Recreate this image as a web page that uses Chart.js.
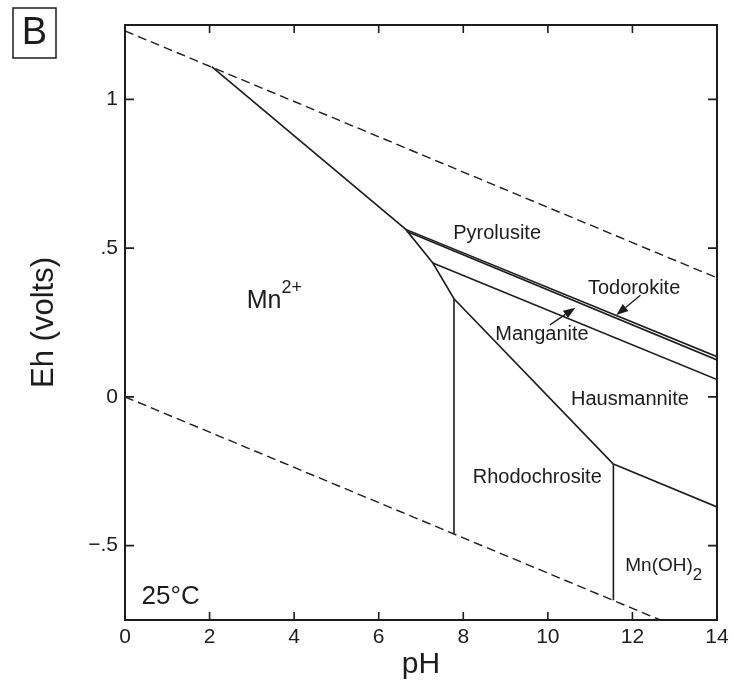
<!DOCTYPE html>
<html>
<head>
<meta charset="utf-8">
<script src="https://cdn.jsdelivr.net/npm/chart.js@4.4.0/dist/chart.umd.min.js"></script>
<style>
  html, body { margin: 0; padding: 0; background: #fff; }
  #wrap { width: 735px; height: 688px; position: relative; }
</style>
</head>
<body>
<div id="wrap"><canvas id="ehph"></canvas></div>
<script>
// Eh-pH diagram for Mn at 25 C
const xTicks = [0, 2, 4, 6, 8, 10, 12, 14];
const yTickValues = [-0.5, 0, 0.5, 1];
const yTickLabels = ['\u2212.5', '0', '.5', '1'];

// water stability limits (dashed)
const waterUpperPH = [0, 14];
const waterUpperEh = [1.23, 0.40];
const waterLowerPH = [0, 12.66];
const waterLowerEh = [0, -0.75];

// field boundaries (solid)
const mnIonPH = [2.05, 6.64, 7.28, 7.78, 11.55];
const mnIonEh = [1.11, 0.563, 0.450, 0.330, -0.226];
const pyrolusitePH = [6.64, 14];
const pyrolusiteEh = [0.563, 0.135];
const todorokitePH = [6.67, 14];
const todorokiteEh = [0.556, 0.124];
const manganitePH = [7.28, 14];
const manganiteEh = [0.450, 0.058];
const rhodoLeftPH = [7.78, 7.78];
const rhodoLeftEh = [0.330, -0.46];
const rhodoRightPH = [11.55, 11.55];
const rhodoRightEh = [-0.226, -0.684];
const hydroxidePH = [11.55, 14];
const hydroxideEh = [-0.226, -0.37];

// field names
const fieldNames = ['Pyrolusite', 'Todorokite', 'Manganite', 'Hausmannite', 'Rhodochrosite', '25\u00b0C'];
const fieldPH = [8.80, 12.04, 9.86, 11.94, 9.75, 1.08];
const fieldEh = [0.550, 0.366, 0.210, -0.010, -0.272, -0.671];

// pointer arrows (Manganite, Todorokite)
const arrowTailPH = [10.05, 12.19];
const arrowTailEh = [0.242, 0.342];
const arrowHeadPH = [10.65, 11.62];
const arrowHeadEh = [0.300, 0.275];

const ink = '#1c1c1c';
const fontFamily = '"Liberation Sans", Arial, Helvetica, sans-serif';
Chart.defaults.font.family = fontFamily;
Chart.defaults.color = ink;

function boundary(ph, eh, dashed) {
    return {
        data: ph.map((x, i) => ({ x: x, y: eh[i] })),
        showLine: true,
        borderColor: ink,
        borderWidth: dashed ? 1.4 : 1.6,
        borderDash: dashed ? [9, 5] : [],
        pointRadius: 0,
        fill: false
    };
}

const datasets = [
    boundary(waterUpperPH, waterUpperEh, true),
    boundary(waterLowerPH, waterLowerEh, true),
    boundary(mnIonPH, mnIonEh),
    boundary(pyrolusitePH, pyrolusiteEh),
    boundary(todorokitePH, todorokiteEh),
    boundary(manganitePH, manganiteEh),
    boundary(rhodoLeftPH, rhodoLeftEh),
    boundary(rhodoRightPH, rhodoRightEh),
    boundary(hydroxidePH, hydroxideEh)
];

// frame, inward ticks, labels and arrows
const decorations = {
    id: 'decorations',
    afterDatasetsDraw(chart) {
        const ctx = chart.ctx;
        const area = chart.chartArea;
        const xs = chart.scales.x, ys = chart.scales.y;
        ctx.save();
        ctx.strokeStyle = ink;
        ctx.fillStyle = ink;

        // frame
        ctx.lineWidth = 2;
        ctx.strokeRect(area.left, area.top, area.right - area.left, area.bottom - area.top);

        // ticks pointing in
        ctx.lineWidth = 1.6;
        ctx.beginPath();
        xTicks.forEach(v => {
            const px = xs.getPixelForValue(v);
            ctx.moveTo(px, area.bottom); ctx.lineTo(px, area.bottom - 8);
            ctx.moveTo(px, area.top); ctx.lineTo(px, area.top + 8);
        });
        yTickValues.forEach(v => {
            const py = ys.getPixelForValue(v);
            ctx.moveTo(area.left, py); ctx.lineTo(area.left + 9, py);
            ctx.moveTo(area.right, py); ctx.lineTo(area.right - 9, py);
        });
        ctx.stroke();

        // field labels
        ctx.textAlign = 'center';
        ctx.textBaseline = 'middle';
        fieldNames.forEach((name, i) => {
            ctx.font = (name === '25\u00b0C' ? '26px ' : '20px ') + fontFamily;
            ctx.fillText(name, xs.getPixelForValue(fieldPH[i]), ys.getPixelForValue(fieldEh[i]));
        });

        // Mn2+ with superscript
        ctx.textAlign = 'left';
        ctx.textBaseline = 'alphabetic';
        let px = xs.getPixelForValue(2.88), py = ys.getPixelForValue(0.299);
        ctx.font = '25px ' + fontFamily;
        ctx.fillText('Mn', px, py);
        px += ctx.measureText('Mn').width;
        ctx.font = '18px ' + fontFamily;
        ctx.fillText('2+', px, py - 15);

        // Mn(OH)2 with subscript
        px = xs.getPixelForValue(11.83); py = ys.getPixelForValue(-0.584);
        ctx.font = '19px ' + fontFamily;
        ctx.fillText('Mn(OH)', px, py);
        px += ctx.measureText('Mn(OH)').width;
        ctx.font = '17px ' + fontFamily;
        ctx.fillText('2', px, py + 9);

        // arrows
        ctx.lineWidth = 1.3;
        arrowTailPH.forEach((_, i) => {
            const x0 = xs.getPixelForValue(arrowTailPH[i]), y0 = ys.getPixelForValue(arrowTailEh[i]);
            const x1 = xs.getPixelForValue(arrowHeadPH[i]), y1 = ys.getPixelForValue(arrowHeadEh[i]);
            const a = Math.atan2(y1 - y0, x1 - x0);
            const len = 12, half = 4.5;
            const bx = x1 - len * Math.cos(a), by = y1 - len * Math.sin(a);
            ctx.beginPath();
            ctx.moveTo(x0, y0); ctx.lineTo(bx, by);
            ctx.stroke();
            ctx.beginPath();
            ctx.moveTo(x1, y1);
            ctx.lineTo(bx + half * Math.sin(a), by - half * Math.cos(a));
            ctx.lineTo(bx - half * Math.sin(a), by + half * Math.cos(a));
            ctx.closePath();
            ctx.fill();
        });

        // panel letter
        ctx.lineWidth = 1.5;
        ctx.strokeRect(13, 8, 43, 50);
        ctx.font = '38px ' + fontFamily;
        ctx.textAlign = 'center';
        ctx.textBaseline = 'middle';
        ctx.fillText('B', 34.5, 34);
        ctx.restore();
    }
};

new Chart(document.getElementById('ehph'), {
    type: 'scatter',
    data: { datasets: datasets },
    options: {
        responsive: true,
        maintainAspectRatio: false,
        animation: false,
        layout: { padding: { top: 25, right: 18, bottom: 0, left: 0 } },
        plugins: { legend: { display: false }, tooltip: { enabled: false } },
        scales: {
            x: {
                type: 'linear',
                min: 0,
                max: 14,
                afterBuildTicks: scale => { scale.ticks = xTicks.map(v => ({ value: v })); },
                afterFit: scale => { scale.height = 68; },
                grid: { display: false, drawTicks: false },
                border: { display: false },
                ticks: { font: { size: 21 }, padding: 5, maxRotation: 0, autoSkip: false },
                title: { display: true, text: 'pH', font: { size: 30 }, padding: { top: 0, bottom: 5 } }
            },
            y: {
                type: 'linear',
                min: -0.75,
                max: 1.25,
                afterBuildTicks: scale => { scale.ticks = yTickValues.map(v => ({ value: v })); },
                afterFit: scale => { scale.width = 125; },
                grid: { display: false, drawTicks: false },
                border: { display: false },
                ticks: {
                    font: { size: 21 },
                    padding: 7,
                    autoSkip: false,
                    callback: v => yTickLabels[yTickValues.indexOf(v)]
                },
                title: { display: true, text: 'Eh (volts)', font: { size: 31 }, padding: { top: 26, bottom: 0 } }
            }
        }
    },
    plugins: [decorations]
});
</script>
</body>
</html>
